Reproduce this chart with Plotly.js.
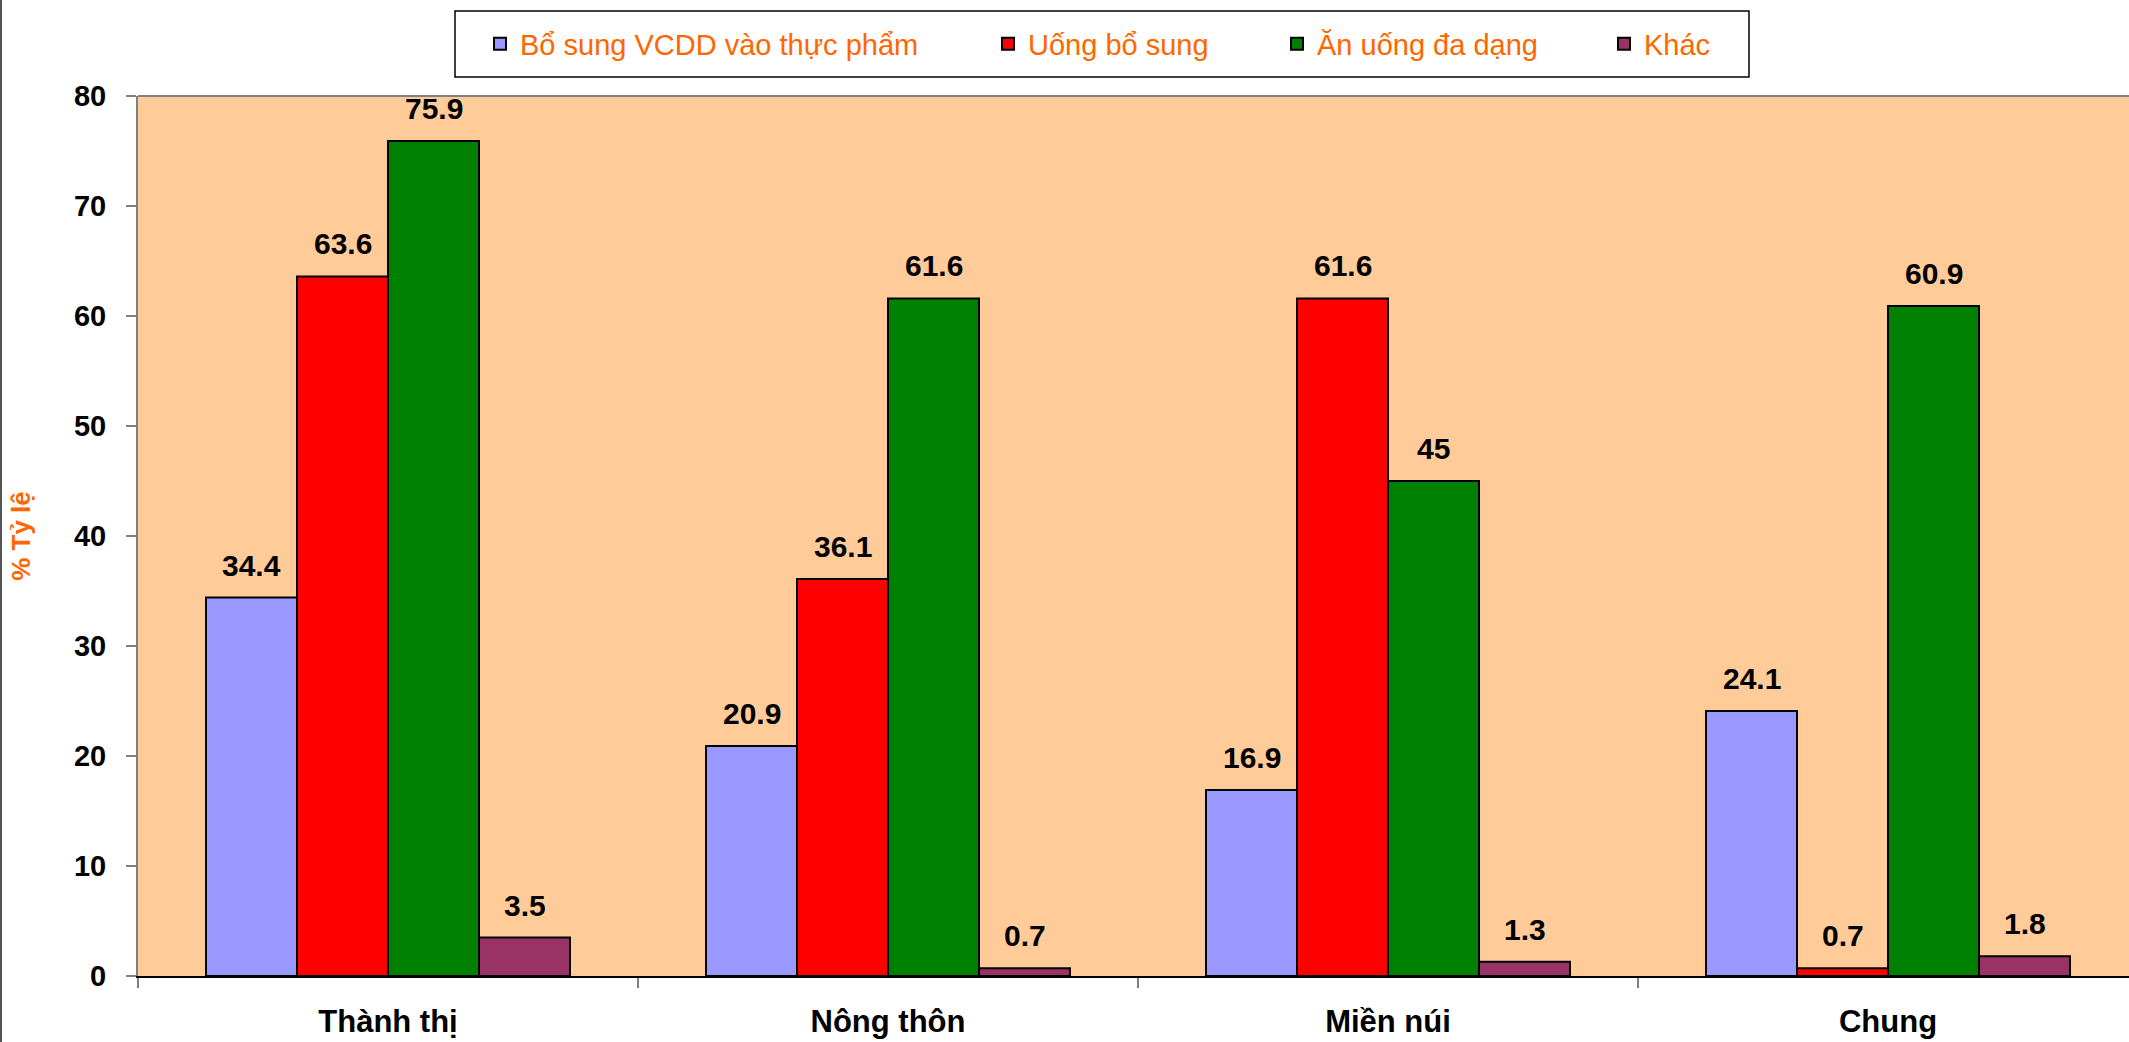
<!DOCTYPE html>
<html>
<head>
<meta charset="utf-8">
<script src="https://cdn.plot.ly/plotly-3.0.1.min.js"></script>
<style>html,body{margin:0;padding:0;overflow:hidden;background:#fff}</style>
</head>
<body>
<div id="chart" style="width:2129px;height:1042px"></div>
<script>
// ---- data ----
const categories = ['Thành thị', 'Nông thôn', 'Miền núi', 'Chung'];
const seriesNames = ['Bổ sung VCDD vào thực phẩm', 'Uống bổ sung', 'Ăn uống đa dạng', 'Khác'];
const boSungVCDD = [34.4, 20.9, 16.9, 24.1];
const uongBoSung = [63.6, 36.1, 61.6, 0.7];
const anUongDaDang = [75.9, 61.6, 45, 60.9];
const khac = [3.5, 0.7, 1.3, 1.8];
const yTickVals = [0, 10, 20, 30, 40, 50, 60, 70, 80];
const yTitle = '% Tỷ lệ';

// ---- style ----
const seriesValues = [boSungVCDD, uongBoSung, anUongDaDang, khac];
const colors = ['#9999FF', '#FF0000', '#008000', '#993366'];
const FONT = 'Liberation Sans, Arial, sans-serif';
const W = 2129, H = 1042;
const M = {l: 138, r: 0, t: 96, b: 66};
const plotW = W - M.l - M.r, plotH = H - M.t - M.b;
const catPx = 500;                       // pixel width of one category
const bargap = 0.272;
const px2x = px => (px - M.l) / plotW;   // pixel -> paper x
const px2y = py => (H - M.b - py) / plotH; // pixel -> paper y
const legendNames = ['legend', 'legend2', 'legend3', 'legend4'];
const legendStartPx = [480, 988, 1277, 1604];

const traces = seriesNames.map((name, i) => ({
  type: 'bar',
  name: name,
  x: categories,
  y: seriesValues[i],
  marker: {color: colors[i], line: {color: '#000000', width: 2}},
  legend: legendNames[i],
  hoverinfo: 'x+y+name'
}));

const barW = (1 - bargap) / seriesNames.length;
const annotations = [];
seriesValues.forEach((vals, s) => {
  vals.forEach((v, c) => {
    annotations.push({
      xref: 'x', yref: 'y',
      x: c + (s - (seriesNames.length - 1) / 2) * barW,
      y: v,
      text: String(v),
      showarrow: false,
      xanchor: 'center', yanchor: 'bottom',
      yshift: 14,
      font: {family: FONT, size: 30, color: '#000000', weight: 'bold'}
    });
  });
});

const legendBase = {
  orientation: 'h',
  xanchor: 'left', yanchor: 'middle',
  y: px2y(44),
  bgcolor: 'rgba(0,0,0,0)',
  borderwidth: 0,
  font: {family: FONT, size: 29, color: '#FF6600'},
  itemclick: false, itemdoubleclick: false
};

const layout = {
  width: W, height: H,
  margin: M,
  paper_bgcolor: '#FFFFFF',
  plot_bgcolor: '#FFCC99',
  barmode: 'group',
  bargap: bargap,
  bargroupgap: 0,
  showlegend: true,
  font: {family: FONT},
  xaxis: {
    type: 'category',
    range: [-0.5, -0.5 + plotW / catPx],
    tickson: 'boundaries',
    ticks: 'outside', ticklen: 10, tickwidth: 2, tickcolor: '#808080',
    showline: true, linecolor: '#000000', linewidth: 2,
    showgrid: false, zeroline: false,
    ticklabelstandoff: 17,
    tickfont: {family: FONT, size: 31, color: '#000000', weight: 'bold'}
  },
  yaxis: {
    range: [0, 80],
    tickvals: yTickVals,
    ticktext: yTickVals.map(String),
    ticks: 'outside', ticklen: 10, tickwidth: 2, tickcolor: '#808080',
    showline: true, linecolor: '#808080', linewidth: 2,
    showgrid: false, zeroline: false,
    ticklabelstandoff: 14,
    tickfont: {family: FONT, size: 29, color: '#000000', weight: 'bold'},
    title: {text: yTitle, standoff: 36, font: {family: FONT, size: 26, color: '#FF6600', weight: 'bold'}}
  },
  annotations: annotations,
  shapes: [
    // legend frame
    {type: 'rect', xref: 'paper', yref: 'paper', layer: 'above',
     x0: px2x(455), x1: px2x(1749), y0: px2y(77), y1: px2y(11),
     line: {color: '#000000', width: 1.5}, fillcolor: '#FFFFFF'},
    // top border of plot area
    {type: 'line', xref: 'paper', yref: 'paper', layer: 'above',
     x0: 0, x1: 1, y0: 1, y1: 1, line: {color: '#808080', width: 2}},
    // outer chart frame (left)
    {type: 'line', xref: 'paper', yref: 'paper', layer: 'above',
     x0: px2x(1), x1: px2x(1), y0: px2y(H), y1: px2y(0), line: {color: '#555555', width: 2}}
  ]
};
legendNames.forEach((ln, i) => {
  layout[ln] = Object.assign({}, legendBase, {x: px2x(legendStartPx[i])});
});

Plotly.newPlot('chart', traces, layout, {displayModeBar: false, staticPlot: true});
</script>
</body>
</html>
